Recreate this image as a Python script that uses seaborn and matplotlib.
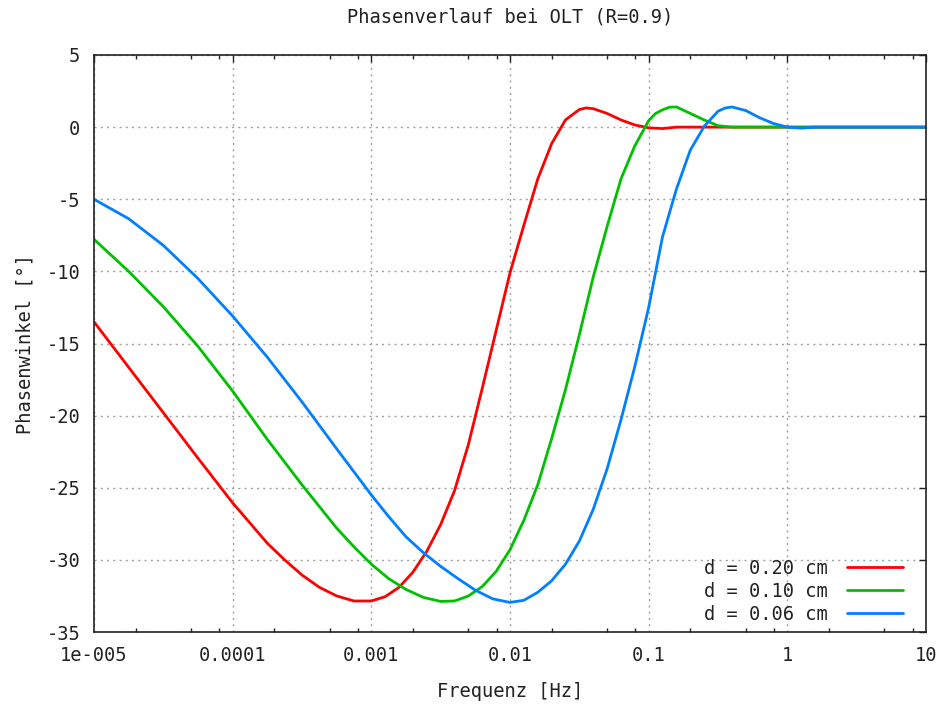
import numpy as np
import pandas as pd
import matplotlib
matplotlib.use("Agg")
import matplotlib.pyplot as plt
import matplotlib.ticker as mticker
import seaborn as sns

# ── Data ─────────────────────────────────────────────────────────────────────
# frequency given as log10(f / Hz), phase in degrees
logf_020 = [-5.0, -4.75, -4.5, -4.25, -4.0, -3.75, -3.625, -3.5, -3.375, -3.25,
            -3.125, -3.0, -2.9, -2.8, -2.7, -2.6, -2.5, -2.4, -2.3, -2.2, -2.1,
            -2.0, -1.9, -1.8, -1.7, -1.6, -1.5, -1.45, -1.4, -1.3, -1.2, -1.1,
            -1.0, -0.9, -0.8, 1.0]
phase_020 = [-13.5, -16.65, -19.8, -22.95, -26.05, -28.85, -30.0, -31.05, -31.9, -32.5,
             -32.85, -32.85, -32.55, -31.9, -30.85, -29.4, -27.55, -25.2, -22.0, -18.1, -14.1,
             -10.1, -6.8, -3.6, -1.15, 0.5, 1.22, 1.33, 1.28, 0.95, 0.5, 0.15,
             -0.05, -0.1, 0.0, 0.0]

logf_010 = [-5.0, -4.75, -4.5, -4.25, -4.0, -3.75, -3.5, -3.25, -3.125, -3.0,
            -2.875, -2.75, -2.625, -2.5, -2.4, -2.3, -2.2, -2.1, -2.0, -1.9,
            -1.8, -1.7, -1.6, -1.5, -1.4, -1.3, -1.2, -1.1, -1.0, -0.95, -0.9,
            -0.85, -0.8, -0.7, -0.6, -0.5, -0.4, 1.0]
phase_010 = [-7.78, -10.0, -12.45, -15.2, -18.3, -21.65, -24.8, -27.8, -29.1, -30.3,
             -31.3, -32.05, -32.6, -32.88, -32.85, -32.5, -31.85, -30.8, -29.3, -27.25,
             -24.8, -21.6, -18.2, -14.4, -10.4, -6.9, -3.6, -1.3, 0.45, 0.95, 1.2,
             1.38, 1.4, 0.95, 0.5, 0.1, 0.0, 0.0]

logf_006 = [-5.0, -4.75, -4.5, -4.25, -4.0, -3.75, -3.5, -3.25, -3.0, -2.875,
            -2.75, -2.625, -2.5, -2.375, -2.25, -2.125, -2.0, -1.9, -1.8, -1.7,
            -1.6, -1.5, -1.4, -1.3, -1.2, -1.1, -1.0, -0.9, -0.8, -0.7, -0.6,
            -0.5, -0.45, -0.4, -0.3, -0.2, -0.1, 0.0, 0.1, 0.2, 1.0]
phase_006 = [-5.0, -6.35, -8.2, -10.5, -13.1, -15.95, -19.05, -22.3, -25.5, -27.0,
             -28.4, -29.5, -30.45, -31.3, -32.1, -32.7, -32.95, -32.8, -32.25, -31.45,
             -30.3, -28.7, -26.5, -23.7, -20.3, -16.6, -12.5, -7.6, -4.3, -1.6, 0.05,
             1.1, 1.32, 1.4, 1.15, 0.65, 0.25, 0.0, -0.07, 0.0, 0.0]

labels = ["d = 0.20 cm", "d = 0.10 cm", "d = 0.06 cm"]
colors = ["#ff0000", "#00c000", "#0080ff"]
x_ticks = [1e-5, 1e-4, 1e-3, 1e-2, 1e-1, 1, 10]
x_ticklabels = ["1e-005", "0.0001", "0.001", "0.01", "0.1", "1", "10"]
y_ticks = list(range(-35, 6, 5))

df = pd.concat([
    pd.DataFrame({"freq": 10.0 ** np.array(lf), "phase": p, "series": lab})
    for lf, p, lab in zip([logf_020, logf_010, logf_006],
                          [phase_020, phase_010, phase_006], labels)
], ignore_index=True)

# ── Style ────────────────────────────────────────────────────────────────────
FS = 13.5
TXT = "#222222"
sns.set_style("white")
plt.rcParams["font.family"] = ["DejaVu Sans Mono", "DejaVu Sans"]
plt.rcParams["font.size"] = FS
plt.rcParams["axes.unicode_minus"] = False

fig = plt.figure(figsize=(9.44, 7.06), dpi=100)
ax = fig.add_axes([94 / 944, 1 - 632 / 706, 832 / 944, 577 / 706])

sns.lineplot(data=df, x="freq", y="phase", hue="series", palette=colors,
             hue_order=labels, sort=False, estimator=None, linewidth=2.0,
             ax=ax)

ax.set_xscale("log")
ax.set_xlim(1e-5, 10)
ax.set_ylim(-35, 5)

ax.xaxis.set_major_locator(mticker.FixedLocator(x_ticks))
ax.xaxis.set_major_formatter(mticker.FixedFormatter(x_ticklabels))
ax.xaxis.set_minor_locator(mticker.LogLocator(base=10, subs=(2, 5, 8)))
ax.xaxis.set_minor_formatter(mticker.NullFormatter())
ax.set_yticks(y_ticks)
ax.yaxis.set_major_formatter(mticker.FormatStrFormatter("%d"))

ax.tick_params(axis="both", which="major", direction="in", length=5,
               width=1, top=True, right=True, labelsize=FS, colors=TXT)
ax.tick_params(axis="x", which="minor", direction="in", length=3, width=1,
               top=True, bottom=True, colors=TXT)
ax.tick_params(axis="x", which="major", pad=10)
ax.tick_params(axis="y", which="major", pad=10)

ax.grid(True, which="major", color="#a0a0a0", linestyle=(0, (1.5, 3)),
        linewidth=1)
for sp in ax.spines.values():
    sp.set_color(TXT)
    sp.set_linewidth(1.2)

ax.set_xlabel("Frequenz [Hz]", fontsize=FS, color=TXT)
ax.set_ylabel("Phasenwinkel [°]", fontsize=FS, color=TXT)
ax.xaxis.set_label_coords(0.5, -0.086)
ax.yaxis.set_label_coords(-0.072, 0.5)
ax.text(0.5, 1.066, "Phasenverlauf bei OLT (R=0.9)", transform=ax.transAxes,
        ha="center", va="center", fontsize=FS, color=TXT)

handles, _ = ax.get_legend_handles_labels()
leg = ax.legend(handles, labels, loc="lower right",
                bbox_to_anchor=(1 - 23 / 832, 8 / 577), frameon=False,
                markerfirst=False, handlelength=3.0, handletextpad=1.0,
                labelspacing=0.22, borderpad=0, borderaxespad=0, fontsize=FS)
for t in leg.get_texts():
    t.set_color(TXT)

fig.savefig("out.png", dpi=100)
